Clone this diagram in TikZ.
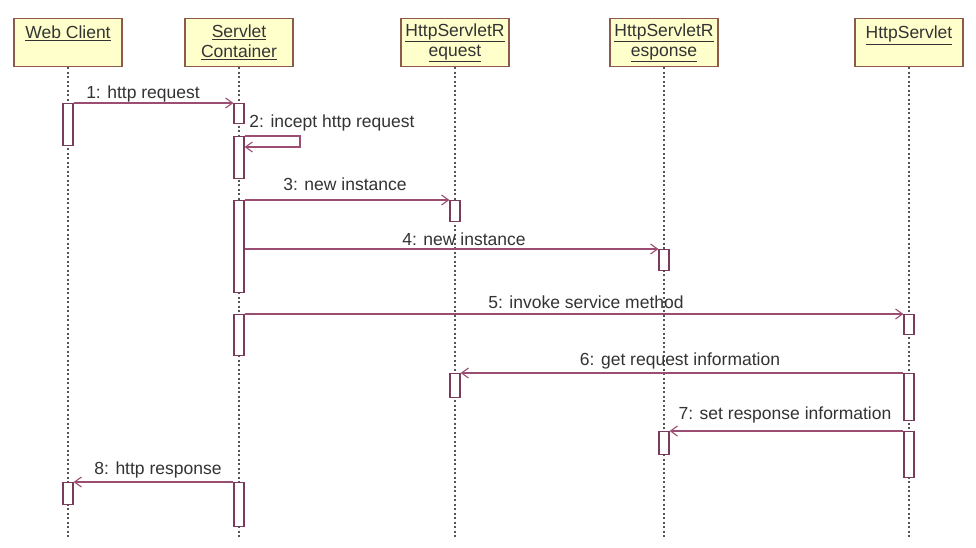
\documentclass[tikz,border=0pt]{standalone}
\usepackage{fontspec}
\setmainfont{Liberation Sans}
\usetikzlibrary{arrows.meta}
\definecolor{objfill}{HTML}{FFFFCC}
\definecolor{objline}{HTML}{8C5A4A}
\definecolor{msgline}{HTML}{9C4E72}
\definecolor{actline}{HTML}{7A3C5A}
\definecolor{lifecol}{HTML}{555555}
\definecolor{txt}{HTML}{333333}

\begin{document}
\begin{tikzpicture}[x=1pt,y=-1pt,
  font=\fontsize{17.5}{20}\selectfont,
  obj/.style={draw=objline, fill=objfill, line width=1.2pt, minimum width=108pt,
    minimum height=48pt, inner sep=0pt, align=center, anchor=north, text=txt},
  life/.style={draw=lifecol, line width=1.3pt, dash pattern=on 2pt off 2.5pt},
  act/.style={draw=actline, fill=white, line width=1.1pt, minimum width=10pt,
    inner sep=0pt, anchor=north},
  msg/.style={draw=msgline, line width=1.1pt, -{Straight Barb[length=7pt,width=10pt]}},
  lbl/.style={anchor=base, inner sep=0pt, text=txt}]

\useasboundingbox (0,0) rectangle (976,548);
\fill[white] (0,0) rectangle (976,548);

% objects
\node[obj] (wc) at (68,18)  {\underline{Web Client}\\\mbox{}};
\node[obj] (sc) at (239,18) {\underline{Servlet}\\\underline{Container}};
\node[obj] (rq) at (455,18) {\underline{HttpServletR}\\\underline{equest}};
\node[obj] (rs) at (664,18) {\underline{HttpServletR}\\\underline{esponse}};
\node[obj] (hs) at (909,18) {\underline{HttpServlet}\\\mbox{}};

% lifelines
\coordinate (wcend) at (68,537);
\coordinate (scend) at (239,537);
\coordinate (rqend) at (455,537);
\coordinate (rsend) at (664,537);
\coordinate (hsend) at (909,537);
\draw[life] (wc) -- (wcend);
\draw[life] (sc) -- (scend);
\draw[life] (rq) -- (rqend);
\draw[life] (rs) -- (rsend);
\draw[life] (hs) -- (hsend);

% activation bars
\node[act, minimum height=42pt] (wc1) at (68,103) {};
\node[act, minimum height=20pt] (sc1) at (239,103) {};
\node[act, minimum height=42pt] (sc2) at (239,136) {};
\node[act, minimum height=92pt] (sc3) at (239,200) {};
\node[act, minimum height=21pt] (rq1) at (455,200) {};
\node[act, minimum height=21pt] (rs1) at (664,249) {};
\node[act, minimum height=41pt] (sc4) at (239,314) {};
\node[act, minimum height=20pt] (hs1) at (909,314) {};
\node[act, minimum height=47pt] (hs2) at (909,373) {};
\node[act, minimum height=24pt] (rq2) at (455,373) {};
\node[act, minimum height=46pt] (hs3) at (909,431) {};
\node[act, minimum height=23pt] (rs2) at (664,431) {};
\node[act, minimum height=22pt] (wc2) at (68,482) {};
\node[act, minimum height=44pt] (sc5) at (239,482) {};

% messages
\draw[msg] (wc1.north east) -- (sc1.north west);
\coordinate (selfturn) at (300,147);
\draw[msg] (sc2.north east) -| (selfturn) -- (sc2.east |- selfturn);
\draw[msg] (sc3.north east) -- (rq1.north west);
\draw[msg] (sc3.east |- rs1.north) -- (rs1.north west);
\draw[msg] (sc4.north east) -- (hs1.north west);
\draw[msg] (hs2.north west) -- (rq2.north east);
\draw[msg] (hs3.north west) -- (rs2.north east);
\draw[msg] (sc5.north west) -- (wc2.north east);

% message labels
\node[lbl] (l1) at (143,99)  {1: http request};
\node[lbl] (l2) at (332,128) {2: incept http request};
\node[lbl] (l3) at (345,190) {3: new instance};
\node[lbl] (l4) at (464,245) {4: new instance};
\node[lbl] (l5) at (586,308) {5: invoke service method};
\node[lbl] (l6) at (680,365) {6: get request information};
\node[lbl] (l7) at (785,419) {7: set response information};
\node[lbl] (l8) at (158,474) {8: http response};
\end{tikzpicture}
\end{document}
